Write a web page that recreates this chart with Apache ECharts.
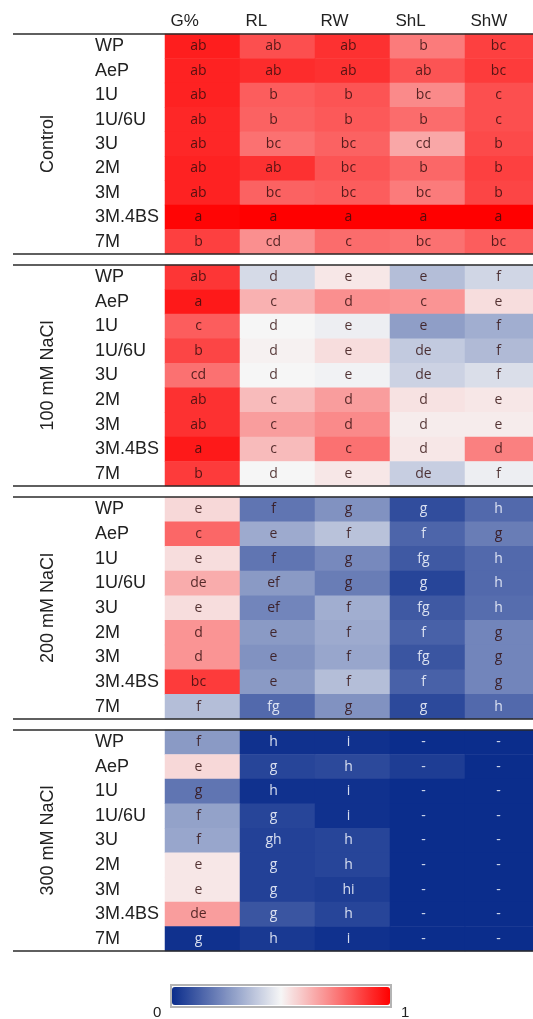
<!DOCTYPE html>
<html>
<head>
<meta charset="utf-8">
<script src="https://cdn.jsdelivr.net/npm/echarts@6/dist/echarts.min.js"></script>
<style>
  html, body { margin: 0; padding: 0; background: #ffffff; }
  #chart { width: 533px; height: 1019px; }
</style>
</head>
<body>
<div id="chart"></div>
<script>
// Traits measured (columns) and lines tested (rows)
const traits = ['G%', 'RL', 'RW', 'ShL', 'ShW'];
const lines = ['WP', 'AeP', '1U', '1U/6U', '3U', '2M', '3M', '3M.4BS', '7M'];
const treatments = ['Control', '100 mM NaCl', '200 mM NaCl', '300 mM NaCl'];
// Ends of the colour scale
const scaleTicks = ['0', '1'];

// Relative scores (0 = lowest, 1 = highest); one row per line, columns follow traits
const controlValues = [
  [0.94, 0.84, 0.90, 0.75, 0.87],
  [0.93, 0.91, 0.90, 0.83, 0.88],
  [0.93, 0.81, 0.83, 0.72, 0.84],
  [0.92, 0.80, 0.82, 0.78, 0.84],
  [0.92, 0.77, 0.80, 0.66, 0.85],
  [0.93, 0.90, 0.83, 0.79, 0.87],
  [0.93, 0.80, 0.81, 0.75, 0.86],
  [0.99, 1.00, 1.00, 1.00, 1.00],
  [0.87, 0.71, 0.78, 0.77, 0.81]
];
const nacl100Values = [
  [0.89, 0.43, 0.53, 0.36, 0.42],
  [0.95, 0.64, 0.71, 0.70, 0.55],
  [0.81, 0.50, 0.48, 0.28, 0.32],
  [0.86, 0.51, 0.55, 0.39, 0.35],
  [0.77, 0.50, 0.49, 0.41, 0.44],
  [0.90, 0.62, 0.68, 0.54, 0.53],
  [0.90, 0.68, 0.72, 0.52, 0.52],
  [0.95, 0.62, 0.77, 0.53, 0.74],
  [0.88, 0.50, 0.53, 0.40, 0.48]
];
const nacl200Values = [
  [0.56, 0.18, 0.25, 0.08, 0.15],
  [0.79, 0.31, 0.37, 0.14, 0.20],
  [0.55, 0.18, 0.23, 0.11, 0.15],
  [0.65, 0.27, 0.20, 0.06, 0.15],
  [0.55, 0.22, 0.32, 0.11, 0.16],
  [0.70, 0.27, 0.31, 0.13, 0.22],
  [0.70, 0.25, 0.30, 0.10, 0.22],
  [0.88, 0.27, 0.36, 0.13, 0.22],
  [0.36, 0.15, 0.25, 0.07, 0.15]
];
const nacl300Values = [
  [0.27, 0.01, 0.01, 0.00, 0.00],
  [0.56, 0.06, 0.07, 0.04, 0.00],
  [0.18, 0.01, 0.01, 0.00, 0.00],
  [0.29, 0.06, 0.01, 0.00, 0.00],
  [0.30, 0.05, 0.06, 0.00, 0.00],
  [0.53, 0.05, 0.06, 0.00, 0.00],
  [0.53, 0.05, 0.04, 0.00, 0.00],
  [0.68, 0.10, 0.06, 0.00, 0.00],
  [0.01, 0.03, 0.01, 0.00, 0.00]
];

// Significance letters printed in each cell
const controlLetters = [
  ['ab', 'ab', 'ab', 'b', 'bc'],
  ['ab', 'ab', 'ab', 'ab', 'bc'],
  ['ab', 'b', 'b', 'bc', 'c'],
  ['ab', 'b', 'b', 'b', 'c'],
  ['ab', 'bc', 'bc', 'cd', 'b'],
  ['ab', 'ab', 'bc', 'b', 'b'],
  ['ab', 'bc', 'bc', 'bc', 'b'],
  ['a', 'a', 'a', 'a', 'a'],
  ['b', 'cd', 'c', 'bc', 'bc']
];
const nacl100Letters = [
  ['ab', 'd', 'e', 'e', 'f'],
  ['a', 'c', 'd', 'c', 'e'],
  ['c', 'd', 'e', 'e', 'f'],
  ['b', 'd', 'e', 'de', 'f'],
  ['cd', 'd', 'e', 'de', 'f'],
  ['ab', 'c', 'd', 'd', 'e'],
  ['ab', 'c', 'd', 'd', 'e'],
  ['a', 'c', 'c', 'd', 'd'],
  ['b', 'd', 'e', 'de', 'f']
];
const nacl200Letters = [
  ['e', 'f', 'g', 'g', 'h'],
  ['c', 'e', 'f', 'f', 'g'],
  ['e', 'f', 'g', 'fg', 'h'],
  ['de', 'ef', 'g', 'g', 'h'],
  ['e', 'ef', 'f', 'fg', 'h'],
  ['d', 'e', 'f', 'f', 'g'],
  ['d', 'e', 'f', 'fg', 'g'],
  ['bc', 'e', 'f', 'f', 'g'],
  ['f', 'fg', 'g', 'g', 'h']
];
const nacl300Letters = [
  ['f', 'h', 'i', '-', '-'],
  ['e', 'g', 'h', '-', '-'],
  ['g', 'h', 'i', '-', '-'],
  ['f', 'g', 'i', '-', '-'],
  ['f', 'gh', 'h', '-', '-'],
  ['e', 'g', 'h', '-', '-'],
  ['e', 'g', 'hi', '-', '-'],
  ['de', 'g', 'h', '-', '-'],
  ['g', 'h', 'i', '-', '-']
];

const valueBlocks = [controlValues, nacl100Values, nacl200Values, nacl300Values];
const letterBlocks = [controlLetters, nacl100Letters, nacl200Letters, nacl300Letters];

// Panel layout
const panelLeft = 165;
const panelWidth = 375;
const panelTops = [34, 265, 497, 730];
const panelHeights = [220, 221, 222, 221];
const ruleLeft = 13;
const ruleRight = 533;

// Colour scale layout
const scaleLeft = 172;
const scaleTop = 987;
const scaleLength = 218;
const scaleThickness = 18;

const labelFont = 'Liberation Sans, Arial, sans-serif';
const cellFont = 'Open Sans, Noto Sans, sans-serif';

function cellData(values, letters) {
  const out = [];
  values.forEach((row, r) => {
    row.forEach((v, c) => {
      out.push({
        value: [c, r, v],
        letter: letters[r][c],
        label: { color: v < 0.17 ? 'rgba(235,240,250,0.9)' : 'rgba(48,12,12,0.82)' }
      });
    });
  });
  return out;
}

const grids = treatments.map((t, i) => ({
  left: panelLeft,
  width: panelWidth,
  top: panelTops[i],
  height: panelHeights[i],
  outerBoundsMode: 'none',
  containLabel: false
}));

const xAxes = treatments.map((t, i) => ({
  type: 'category',
  gridIndex: i,
  data: traits,
  position: 'top',
  axisLine: { show: false },
  axisTick: { show: false },
  splitLine: { show: false },
  axisLabel: {
    show: i === 0,
    margin: 4,
    interval: 0,
    formatter: v => '{h|' + v + '}',
    rich: {
      h: { width: 64, align: 'left', fontSize: 17, fontFamily: labelFont, color: '#222222' }
    }
  }
}));

const yAxes = treatments.map((t, i) => ({
  type: 'category',
  gridIndex: i,
  data: lines,
  inverse: true,
  axisLine: { show: false },
  axisTick: { show: false },
  splitLine: { show: false },
  axisLabel: {
    margin: 70,
    align: 'left',
    interval: 0,
    fontSize: 18,
    fontFamily: labelFont,
    color: '#222222'
  },
  name: t,
  nameLocation: 'middle',
  nameRotate: 90,
  nameGap: 108,
  nameTextStyle: { fontSize: 18, fontFamily: labelFont, color: '#222222' }
}));

const series = treatments.map((t, i) => ({
  type: 'heatmap',
  name: t,
  xAxisIndex: i,
  yAxisIndex: i,
  data: cellData(valueBlocks[i], letterBlocks[i]),
  itemStyle: { borderWidth: 0 },
  label: {
    show: true,
    fontSize: 14,
    fontFamily: cellFont,
    offset: [-4, 0],
    formatter: p => p.data.letter
  },
  emphasis: { disabled: true }
}));

// Horizontal rules framing each treatment block
const decorations = [];
panelTops.forEach((top, i) => {
  [top, top + panelHeights[i]].forEach(y => {
    decorations.push({
      type: 'line',
      shape: { x1: ruleLeft, y1: y, x2: ruleRight, y2: y },
      style: { stroke: '#2a2a2a', lineWidth: 1.5 },
      z: 10
    });
  });
});
// Grey frame round the colour scale and its end labels
decorations.push({
  type: 'rect',
  shape: { x: scaleLeft - 1, y: scaleTop - 2, width: scaleLength + 2, height: scaleThickness + 4 },
  style: { fill: null, stroke: '#b4b4b4', lineWidth: 2 },
  z: 10
});
decorations.push({
  type: 'text',
  left: scaleLeft - 19,
  top: scaleTop + 18,
  style: { text: scaleTicks[0], fontSize: 15, fontFamily: labelFont, fill: '#222222' }
});
decorations.push({
  type: 'text',
  left: scaleLeft + scaleLength + 11,
  top: scaleTop + 18,
  style: { text: scaleTicks[1], fontSize: 15, fontFamily: labelFont, fill: '#222222' }
});

const chart = echarts.init(document.getElementById('chart'), null, { renderer: 'canvas' });
chart.setOption({
  backgroundColor: '#ffffff',
  animation: false,
  grid: grids,
  xAxis: xAxes,
  yAxis: yAxes,
  visualMap: {
    type: 'continuous',
    min: 0,
    max: 1,
    orient: 'horizontal',
    left: scaleLeft,
    top: scaleTop,
    padding: 0,
    itemWidth: scaleThickness,
    itemHeight: scaleLength,
    text: null,
    showLabel: false,
    calculable: false,
    seriesIndex: [0, 1, 2, 3],
    inRange: { color: ['#0b2d8c', '#f6f6f6', '#ff0000'] }
  },
  graphic: decorations,
  series: series
});
</script>
</body>
</html>
